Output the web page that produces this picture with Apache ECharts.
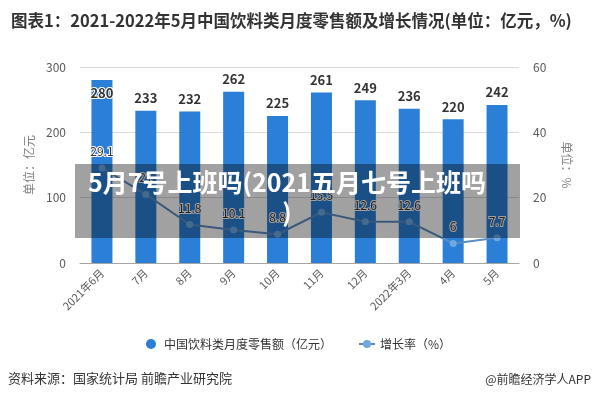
<!DOCTYPE html>
<html>
<head>
<meta charset="utf-8">
<script src="https://cdn.jsdelivr.net/npm/echarts@6/dist/echarts.min.js"></script>
<style>
html,body{margin:0;padding:0;background:#fff;}
#container{width:597px;height:402px;}
</style>
</head>
<body>
<div id="container"></div>
<script>
var months=['2021年6月','7月','8月','9月','10月','11月','12月','2022年3月','4月','5月'];
var sales=[280,233,232,262,225,261,249,236,220,242];
var growth=[29.1,21,11.8,10.1,8.8,15.5,12.6,12.6,6,7.7];
var leftTicks=[0,100,200,300];
var rightTicks=[0,20,40,60];

var font='"Noto Sans CJK SC", "Microsoft YaHei", sans-serif';

var saleData=[];
for(var i=0;i<sales.length;i++){
	if(i==0){
		saleData.push({value:sales[i],label:{position:'insideTop',distance:6}});
	}else{
		saleData.push(sales[i]);
	}
}

var option={
	animation:false,
	textStyle:{fontFamily:font},
	title:{
		text:'图表1：2021-2022年5月中国饮料类月度零售额及增长情况(单位：亿元，%)',
		left:6,
		top:7,
		textStyle:{fontSize:16.5,fontWeight:'bold',color:'#333',fontFamily:font}
	},
	legend:{
		bottom:47,
		left:'center',
		itemGap:26,
		itemWidth:16,
		itemHeight:10,
		textStyle:{fontSize:12,color:'#333'},
		data:[
			{name:'中国饮料类月度零售额（亿元）',icon:'circle'},
			{name:'增长率（%）'}
		]
	},
	grid:{left:80,right:78,top:67,bottom:139},
	xAxis:{
		type:'category',
		data:months,
		axisLine:{lineStyle:{color:'#a6a6a6'}},
		axisTick:{alignWithLabel:true,length:5,lineStyle:{color:'#a6a6a6'}},
		axisLabel:{rotate:45,fontSize:11,color:'#595959',margin:8,interval:0}
	},
	yAxis:[
		{
			type:'value',
			min:leftTicks[0],
			max:leftTicks[leftTicks.length-1],
			interval:100,
			name:'单位：亿元',
			nameLocation:'middle',
			nameGap:32,
			nameTextStyle:{fontSize:12,color:'#7f7f7f'},
			axisLine:{show:false},
			axisTick:{show:false},
			axisLabel:{fontSize:12,color:'#595959',margin:14},
			splitLine:{lineStyle:{color:'#d9d9d9'}}
		},
		{
			type:'value',
			min:rightTicks[0],
			max:rightTicks[rightTicks.length-1],
			interval:20,
			name:'单位：%',
			nameLocation:'middle',
			nameRotate:-90,
			nameGap:42,
			nameTextStyle:{fontSize:12,color:'#7f7f7f'},
			axisLine:{show:false},
			axisTick:{show:false},
			axisLabel:{fontSize:12,color:'#595959',margin:14},
			splitLine:{show:false}
		}
	],
	series:[
		{
			name:'中国饮料类月度零售额（亿元）',
			type:'bar',
			barWidth:21,
			itemStyle:{color:'#2b7fd6'},
			label:{show:true,position:'top',distance:6,fontSize:13,fontWeight:'bold',color:'#333',
				textBorderColor:'#fff',textBorderWidth:2},
			data:saleData
		},
		{
			name:'增长率（%）',
			type:'line',
			yAxisIndex:1,
			symbol:'circle',
			symbolSize:7,
			itemStyle:{color:'#6fa8e0'},
			lineStyle:{color:'#5b8cc4',width:2},
			label:{show:true,position:'top',distance:7,fontSize:12,color:'#333',
				textBorderColor:'#fff',textBorderWidth:2},
			data:growth
		}
	],
	graphic:[
		{
			type:'text',
			left:8,
			top:372,
			style:{text:'资料来源：国家统计局 前瞻产业研究院',fontSize:13,fill:'#333',fontFamily:font}
		},
		{
			type:'text',
			right:6,
			top:373,
			style:{text:'@前瞻经济学人APP',fontSize:12,fill:'#333',fontFamily:font}
		},
		{
			type:'rect',
			left:75,
			top:164,
			z:100,
			shape:{width:445,height:74},
			style:{fill:'rgba(0,0,0,0.37)'}
		},
		{
			type:'text',
			x:287,
			y:167,
			z:101,
			style:{text:'5月7号上班吗(2021五月七号上班吗\n)',fontSize:25,fontWeight:'bold',fill:'#fff',
				align:'center',lineHeight:30,fontFamily:font}
		}
	]
};

var mychart=echarts.init(document.getElementById('container'));
mychart.setOption(option);
</script>
</body>
</html>
